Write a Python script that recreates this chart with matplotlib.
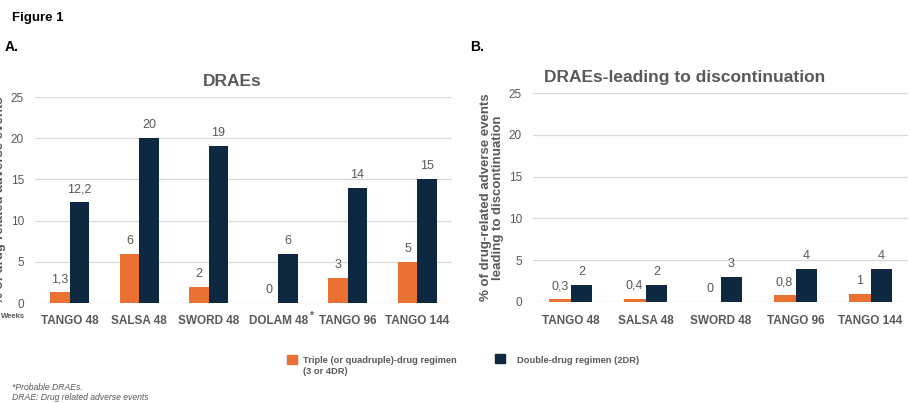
import matplotlib.pyplot as plt
import numpy as np

plt.rcParams['font.family'] = ['Liberation Sans', 'DejaVu Sans']

# Panel A: drug-related adverse events
studies_a = ['TANGO 48', 'SALSA 48', 'SWORD 48', 'DOLAM 48', 'TANGO 96', 'TANGO 144']
triple_a = [1.3, 6, 2, 0, 3, 5]
double_a = [12.2, 20, 19, 6, 14, 15]

# Panel B: DRAEs leading to discontinuation
studies_b = ['TANGO 48', 'SALSA 48', 'SWORD 48', 'TANGO 96', 'TANGO 144']
triple_b = [0.3, 0.4, 0, 0.8, 1]
double_b = [2, 2, 3, 4, 4]

ORANGE = '#E97132'
NAVY = '#0E2841'
GREY = '#595959'
GRID = '#D9D9D9'

W, H = 909, 403
fig = plt.figure(figsize=(W / 100, H / 100), dpi=100)


def fmt(v):
    s = ('%g' % v)
    return s.replace('.', ',')


def panel(rect, names, tri, dbl, width, title, title_x):
    ax = fig.add_axes(rect)
    x = np.arange(len(names))
    b1 = ax.bar(x - width / 2, tri, width, color=ORANGE, zorder=3)
    b2 = ax.bar(x + width / 2, dbl, width, color=NAVY, zorder=3)
    for bars, vals in ((b1, tri), (b2, dbl)):
        for r, v in zip(bars, vals):
            ax.annotate(fmt(v), (r.get_x() + r.get_width() / 2, v),
                        xytext=(0, 5), textcoords='offset points',
                        ha='center', va='bottom', fontsize=9, color=GREY)
    ax.set_ylim(0, 25)
    ax.set_xlim(-0.5, len(names) - 0.5)
    ax.set_yticks(range(0, 26, 5))
    ax.yaxis.grid(True, color=GRID, lw=0.9, zorder=0)
    ax.set_axisbelow(True)
    for s in ax.spines.values():
        s.set_visible(False)
    ax.tick_params(length=0)
    ax.tick_params(axis='y', labelsize=8.5, labelcolor=GREY, pad=8)
    ax.tick_params(axis='x', pad=9)
    ax.set_xticks(x)
    ax.set_xticklabels(names, fontsize=8.5, fontweight='bold', color=GREY)
    ax.set_title(title, fontsize=12.5, fontweight='bold', color=GREY, pad=8,
                 x=title_x)
    return ax


ax1 = panel([35 / W, 1 - 303 / H, 417 / W, 206 / H],
            studies_a, triple_a, double_a, 0.28, 'DRAEs', 0.472)
ax1.set_ylabel('% of drug-related adverse events', fontsize=9.5,
               fontweight='bold', color=GREY)
ax1.yaxis.set_label_coords(-0.07, 0.5)
# superscript asterisk on the DOLAM tick label
ax1.text(3.45, -0.04, '*', transform=ax1.get_xaxis_transform(),
         fontsize=7, fontweight='bold', color=GREY, ha='left', va='top')

ax2 = panel([533 / W, 1 - 302 / H, 375 / W, 209 / H],
            studies_b, triple_b, double_b, 0.29,
            'DRAEs-leading to discontinuation', 0.403)
ax2.set_ylabel('% of drug-related adverse events\nleading to discontinuation',
               fontsize=9.5, fontweight='bold', color=GREY, linespacing=1.1)
ax2.yaxis.set_label_coords(-0.076, 0.5)

# headings and notes
fig.text(12 / W, 1 - 18 / H, 'Figure 1', fontsize=9.5, fontweight='bold', va='center')
fig.text(5 / W, 1 - 47 / H, 'A.', fontsize=10, fontweight='bold', va='center')
fig.text(470 / W, 1 - 47 / H, 'B.', fontsize=10, fontweight='bold', va='center')
fig.text(1 / W, 1 - 316 / H, 'Weeks', fontsize=5.5, fontweight='bold',
         color=GREY, va='center')

# legend
fig.patches.append(plt.Rectangle((287 / W, 1 - 364 / H), 10 / W, 9 / H,
                                 transform=fig.transFigure, color=ORANGE))
fig.text(303 / W, 1 - 356 / H, 'Triple (or quadruple)-drug regimen\n(3 or 4DR)',
         fontsize=6.7, fontweight='bold', color=GREY, va='top', linespacing=1.35)
fig.patches.append(plt.Rectangle((495 / W, 1 - 363 / H), 10 / W, 9 / H,
                                 transform=fig.transFigure, color=NAVY))
fig.text(517 / W, 1 - 356 / H, 'Double-drug regimen (2DR)',
         fontsize=6.7, fontweight='bold', color=GREY, va='top')

fig.text(12 / W, 1 - 387 / H, '*Probable DRAEs.', fontsize=6.2,
         style='italic', color=GREY, va='center')
fig.text(12 / W, 1 - 397 / H, 'DRAE: Drug related adverse events', fontsize=6.2,
         style='italic', color=GREY, va='center')

fig.savefig('out.png', dpi=100)
